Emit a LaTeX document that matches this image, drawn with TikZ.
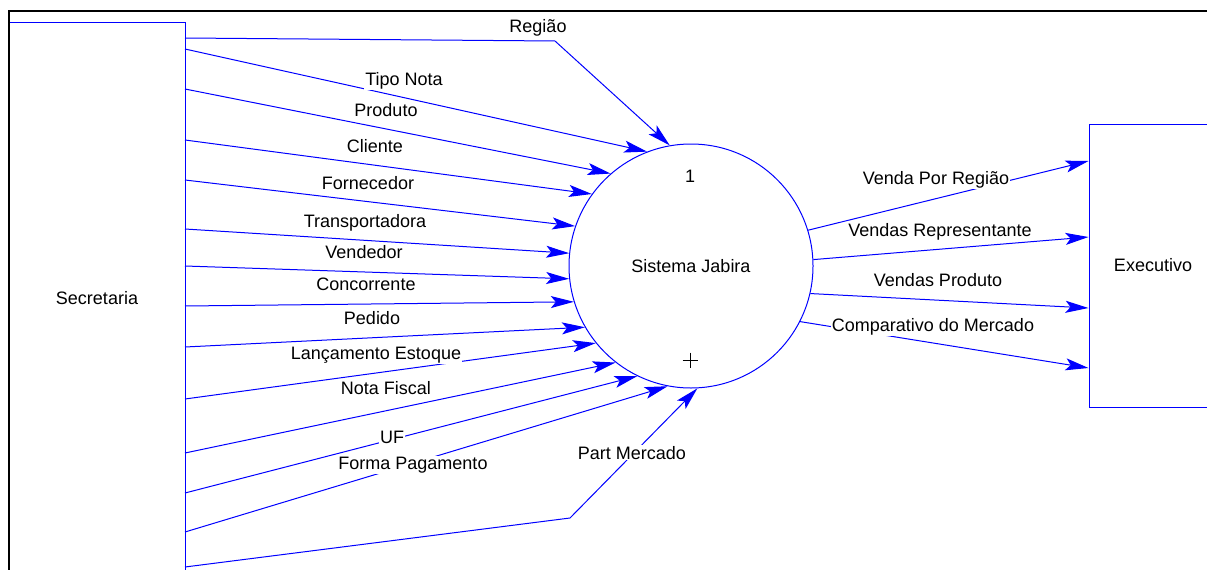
\documentclass[tikz,border=0pt]{standalone}
\usepackage{fontspec}
\setmainfont{Liberation Sans}
\usetikzlibrary{arrows.meta}

\begin{document}
\begin{tikzpicture}[x=1pt,y=-1pt,font=\fontsize{18}{21}\selectfont,
            flow/.style={draw=blue,line width=1pt,-{Stealth[length=23pt,width=12pt,inset=5pt]}},
            lbl/.style={fill=white,inner sep=1pt,anchor=base},
            ent/.style={draw=blue,line width=1pt,inner sep=0pt}]
            \clip (0,0) rectangle (1207,570);
            \node [ent,minimum width=176,minimum height=552] (sec) at (97,298) {Secretaria};
            \node [ent,minimum width=128,minimum height=283] (exe) at (1153,265.5) {Executivo};
            \node [ent,circle,minimum size=244] (proc) at (691,266) {Sistema Jabira};
            \node (num) at (690,176) {1};
            \coordinate (plus) at (690,360);
            \draw [line width=1pt] (plus) +(-7.5,0) -- +(7.5,0) (plus) +(0,-7.5) -- +(0,7.5);
            % points on the Secretaria side
            \coordinate (s1) at (185,38);  \coordinate (s2) at (185,49);
            \coordinate (s3) at (185,89);  \coordinate (s4) at (185,140);
            \coordinate (s5) at (185,180); \coordinate (s6) at (185,229);
            \coordinate (s7) at (185,266); \coordinate (s8) at (185,306);
            \coordinate (s9) at (185,347); \coordinate (s10) at (185,399);
            \coordinate (s11) at (185,453); \coordinate (s12) at (185,493);
            \coordinate (s13) at (185,532); \coordinate (s14) at (185,567);
            \coordinate (b1) at (555,41);  \coordinate (b2) at (570,518);
            \coordinate (e1) at (exe.west |- 0,161); \coordinate (e2) at (exe.west |- 0,237);
            \coordinate (e3) at (exe.west |- 0,308); \coordinate (e4) at (exe.west |- 0,368);
            \draw [flow] (s1) -- (b1) -- (proc.100);
            \draw [flow] (s2) -- (proc.111);
            \draw [flow] (s3) -- (proc.131);
            \draw [flow] (s4) -- (proc.144);
            \draw [flow] (s5) -- (proc.161);
            \draw [flow] (s6) -- (proc.174);
            \draw [flow] (s7) -- (proc.186);
            \draw [flow] (s8) -- (proc.197);
            \draw [flow] (s9) -- (proc.210);
            \draw [flow] (s10) -- (proc.219);
            \draw [flow] (s11) -- (proc.232);
            \draw [flow] (s12) -- (proc.244);
            \draw [flow] (s13) -- (proc.259);
            \draw [flow] (s14) -- (b2) -- (proc.273);
            \draw [flow] (proc.17) -- (e1);
            \draw [flow] (proc.3) -- (e2);
            \draw [flow] (proc.347) -- (e3);
            \draw [flow] (proc.333) -- (e4);
            \node [lbl] (l1) at (538,32) {Região};
            \node [lbl] (l2) at (404,85) {Tipo Nota};
            \node [lbl] (l3) at (386,116) {Produto};
            \node [lbl] (l4) at (375,152.5) {Cliente};
            \node [lbl] (l5) at (368,189) {Fornecedor};
            \node [lbl] (l6) at (365,227) {Transportadora};
            \node [lbl] (l7) at (364,258) {Vendedor};
            \node [lbl] (l8) at (366,290) {Concorrente};
            \node [lbl] (l9) at (372,324) {Pedido};
            \node [lbl] (l10) at (376,359.5) {Lançamento Estoque};
            \node [lbl] (l11) at (386,394) {Nota Fiscal};
            \node [lbl] (l12) at (392,443) {UF};
            \node [lbl] (l13) at (413,469) {Forma Pagamento};
            \node [lbl] (l14) at (632,459) {Part Mercado};
            \node [lbl] (o1) at (936,184) {Venda Por Região};
            \node [lbl] (o2) at (940,236) {Vendas Representante};
            \node [lbl] (o3) at (938,286) {Vendas Produto};
            \node [lbl] (o4) at (933,331) {Comparativo do Mercado};
            \draw [line width=2pt] (9,600) -- (9,11) -- (1250,11);
\end{tikzpicture}
\end{document}
